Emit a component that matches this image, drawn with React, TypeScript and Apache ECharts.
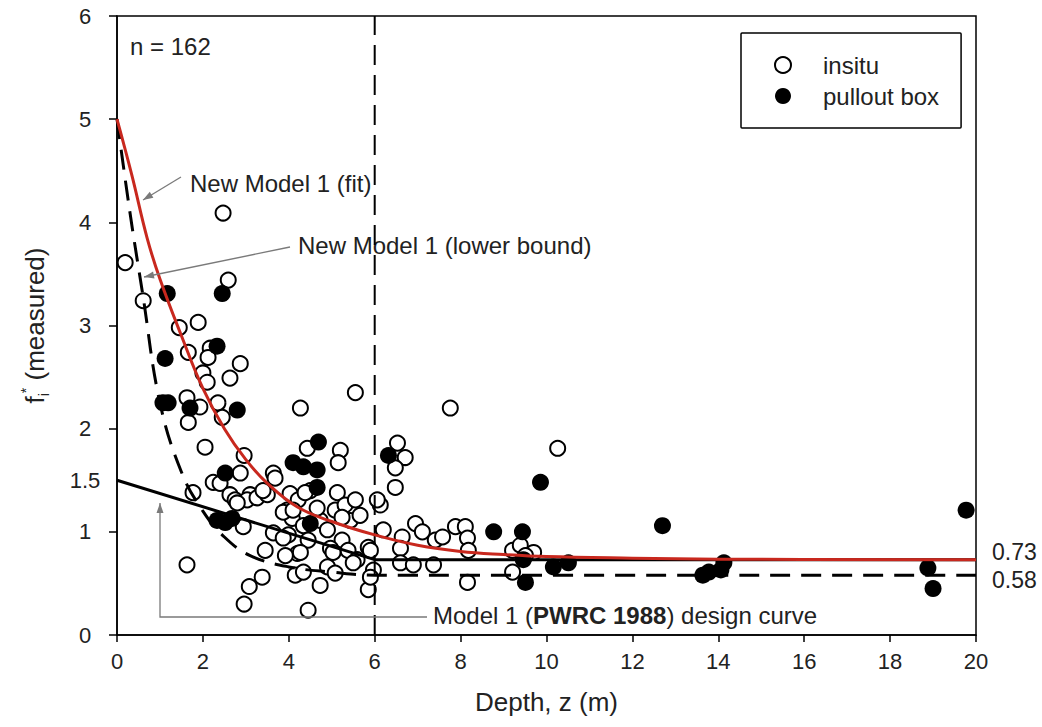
import React, { useEffect, useRef } from "react";
import * as echarts from "echarts";

// Measured f* values (depth z in m, f* measured)
const insitu: number[][] = [
  [0.19, 3.61], [0.61, 3.24], [2.47, 4.09], [2.59, 3.44], [1.45, 2.98], [1.89, 3.03], [1.66, 2.74],
  [2.17, 2.78], [2.12, 2.69], [2.87, 2.63], [2.0, 2.54], [2.63, 2.49], [2.1, 2.45], [1.63, 2.3],
  [2.35, 2.25], [1.93, 2.21], [2.45, 2.11], [1.66, 2.06], [4.27, 2.2], [5.55, 2.35], [7.76, 2.2],
  [10.26, 1.81], [2.05, 1.82], [2.96, 1.74], [4.43, 1.81], [5.2, 1.79], [5.15, 1.67], [6.53, 1.86],
  [6.71, 1.72], [6.48, 1.62], [6.48, 1.43], [5.13, 1.38], [3.64, 1.57], [2.87, 1.57], [2.24, 1.48],
  [2.4, 1.47], [1.77, 1.38], [2.63, 1.36], [2.75, 1.31], [3.1, 1.36], [3.03, 1.31], [3.26, 1.33],
  [3.5, 1.36], [3.68, 1.52], [3.4, 1.4], [3.96, 1.21], [4.08, 1.13], [2.94, 1.05], [3.64, 0.99],
  [3.99, 0.97], [4.2, 0.79], [4.15, 0.58], [3.87, 0.94], [4.03, 1.37], [4.22, 1.31], [4.5, 1.4],
  [4.34, 1.06], [4.45, 0.92], [4.73, 1.11], [4.9, 1.02], [5.08, 1.21], [5.31, 1.26], [5.55, 1.31],
  [5.43, 1.11], [5.66, 1.16], [5.24, 1.14], [5.24, 0.92], [4.97, 0.84], [4.73, 0.48], [4.34, 0.61],
  [4.9, 0.66], [5.08, 0.6], [5.38, 0.82], [5.59, 0.73], [5.85, 0.85], [5.97, 0.63], [5.85, 0.44],
  [6.13, 1.26], [6.2, 1.02], [6.64, 0.95], [6.95, 1.08], [7.11, 1.0], [7.41, 0.92], [6.6, 0.84],
  [6.6, 0.7], [6.9, 0.68], [7.37, 0.68], [7.88, 1.05], [8.11, 1.05], [8.16, 0.94], [8.18, 0.82],
  [8.16, 0.51], [9.21, 0.82], [9.39, 0.87], [9.7, 0.8], [9.51, 0.77], [9.21, 0.61], [7.58, 0.95],
  [1.63, 0.68], [3.38, 0.56], [3.08, 0.47], [2.96, 0.3], [4.45, 0.24], [3.45, 0.82], [3.92, 0.77],
  [3.87, 1.19], [2.8, 1.28], [4.38, 1.38], [4.1, 1.21], [4.66, 1.23], [6.06, 1.31], [4.27, 0.8],
  [5.03, 0.8], [5.9, 0.82], [5.5, 0.7], [5.9, 0.56],
];

const pullout: number[][] = [
  [1.17, 3.31], [2.45, 3.31], [2.33, 2.8], [1.12, 2.68], [1.07, 2.25], [1.19, 2.25], [1.7, 2.2],
  [2.8, 2.18], [2.52, 1.57], [2.33, 1.11], [2.52, 1.09], [2.68, 1.13], [4.1, 1.67], [4.34, 1.63],
  [4.66, 1.6], [4.69, 1.87], [4.66, 1.43], [4.5, 1.08], [6.32, 1.74], [9.86, 1.48], [8.77, 1.0],
  [9.44, 1.0], [9.46, 0.73], [9.51, 0.51], [10.16, 0.66], [10.51, 0.7], [12.7, 1.06], [13.64, 0.58],
  [13.78, 0.61], [14.06, 0.63], [14.13, 0.7], [18.88, 0.65], [19.0, 0.45], [19.77, 1.21],
];

// Curves
const fitCurve: number[][] = [
  [0, 5.0], [0.35, 4.45], [0.7, 3.85], [1, 3.45], [1.5, 2.9], [2, 2.39], [2.5, 2.0], [3, 1.7],
  [3.5, 1.47], [4.2, 1.24], [5, 1.1], [6, 0.97], [7, 0.87], [8, 0.81], [9, 0.78], [10, 0.76],
  [12, 0.745], [14, 0.735], [20, 0.73],
];
const lowerBound: number[][] = [
  [0, 5.0], [0.3, 4.1], [0.6, 3.3], [1.0, 2.25], [1.5, 1.58], [2, 1.2], [2.5, 0.95], [3.1, 0.77],
  [4, 0.66], [5, 0.61], [6, 0.58], [20, 0.58],
];
const pwrcCurve: number[][] = [[0, 1.5], [6, 0.73], [20, 0.73]];
const divider: number[][] = [[6, 0], [6, 6]];

const yLabelValues = [0, 1, 1.5, 2, 3, 4, 5, 6];
const yTickValues = [0, 1, 2, 3, 4, 5, 6];
const endLabels = [
  { text: "0.73", value: 0.73, dy: -8 },
  { text: "0.58", value: 0.58, dy: 5 },
];

const FONT = "'Liberation Sans', Arial, sans-serif";
const GRAY = "#7a7a7a";
const TXT = "#222";

function arrow(x1: number, y1: number, x2: number, y2: number, pts?: number[][]) {
  const line = pts
    ? { type: "polyline", shape: { points: pts }, style: { stroke: GRAY, lineWidth: 1.3, fill: null }, z: 20 }
    : { type: "line", shape: { x1, y1, x2, y2 }, style: { stroke: GRAY, lineWidth: 1.3 }, z: 20 };
  const ang = Math.atan2(y2 - y1, x2 - x1);
  const L = 10, W = 3.5;
  const bx = x2 - L * Math.cos(ang), by = y2 - L * Math.sin(ang);
  const px = -Math.sin(ang) * W, py = Math.cos(ang) * W;
  const head = {
    type: "polygon",
    shape: { points: [[x2, y2], [bx + px, by + py], [bx - px, by - py]] },
    style: { fill: GRAY },
    z: 20,
  };
  return [line, head];
}

export default function App() {
  const ref = useRef<HTMLDivElement>(null);
  useEffect(() => {
    const chart = echarts.init(ref.current!, null, { renderer: "svg" });
    const textStyle = { fontFamily: FONT, fontSize: 24, fill: TXT };
    chart.setOption({
      animation: false,
      backgroundColor: "#fff",
      grid: { left: 117, right: 66, top: 16, bottom: 92, show: true, borderColor: "#000", borderWidth: 1.5 },
      legend: {
        data: ["insitu", "pullout box"],
        orient: "vertical",
        left: 741,
        top: 33,
        padding: [20, 22, 20, 33],
        itemWidth: 70,
        itemHeight: 16,
        itemGap: 7,
        borderColor: "#000",
        borderWidth: 1.5,
        borderRadius: 1,
        backgroundColor: "#fff",
        textStyle: { fontFamily: FONT, fontSize: 24, color: TXT },
      },
      xAxis: {
        type: "value",
        min: 0,
        max: 20,
        interval: 2,
        axisLine: { show: true, lineStyle: { color: "#000", width: 1.5 } },
        axisTick: { show: true, inside: false, length: 7, lineStyle: { color: "#000", width: 1.5 } },
        axisLabel: { fontFamily: FONT, fontSize: 22, color: TXT, margin: 15 },
        splitLine: { show: false },
        name: "Depth, z (m)",
        nameLocation: "middle",
        nameGap: 54,
        nameTextStyle: { fontFamily: FONT, fontSize: 26, color: TXT },
      },
      yAxis: {
        type: "value",
        min: 0,
        max: 6,
        interval: 1,
        axisLine: { show: true, lineStyle: { color: "#000", width: 1.5 } },
        axisTick: { show: true, inside: false, length: 8, customValues: yTickValues, lineStyle: { color: "#000", width: 1.5 } },
        axisLabel: { fontFamily: FONT, fontSize: 22, color: TXT, margin: 32, align: "center", customValues: yLabelValues },
        splitLine: { show: false },
        name: "{f|f}{sub|i}{sup|*}{m| (measured)}",
        nameLocation: "middle",
        nameGap: 66,
        nameTextStyle: {
          fontFamily: FONT,
          color: TXT,
          rich: {
            f: { fontFamily: FONT, fontSize: 26, color: TXT, lineHeight: 32 },
            sub: { fontFamily: FONT, fontSize: 14, color: TXT, verticalAlign: "bottom", lineHeight: 32 },
            sup: { fontFamily: FONT, fontSize: 14, color: TXT, verticalAlign: "top", lineHeight: 32 },
            m: { fontFamily: FONT, fontSize: 26, color: TXT, lineHeight: 32 },
          },
        },
      },
      series: [
        {
          name: "insitu",
          type: "scatter",
          data: insitu,
          symbol: "circle",
          symbolSize: 15,
          itemStyle: { color: "#fff", borderColor: "#000", borderWidth: 2, opacity: 1 },
          z: 2,
        },
        {
          name: "pullout box",
          type: "scatter",
          data: pullout,
          symbol: "circle",
          symbolSize: 17,
          itemStyle: { color: "#000", borderColor: "#000", borderWidth: 0, opacity: 1 },
          z: 2,
        },
        {
          name: "PWRC 1988",
          type: "line",
          data: pwrcCurve,
          showSymbol: false,
          lineStyle: { color: "#000", width: 3 },
          z: 4,
        },
        {
          name: "New Model 1 (lower bound)",
          type: "line",
          data: lowerBound,
          smooth: 0.4,
          showSymbol: false,
          lineStyle: { color: "#000", width: 3, type: [20, 11] },
          z: 4,
        },
        {
          name: "New Model 1 (fit)",
          type: "line",
          data: fitCurve,
          smooth: 0.4,
          showSymbol: false,
          lineStyle: { color: "#c8281e", width: 3 },
          z: 5,
        },
        {
          name: "z = 6 m",
          type: "line",
          data: divider,
          showSymbol: false,
          lineStyle: { color: "#000", width: 2, type: [20, 10] },
          z: 4,
        },
      ],
    });

    const right = chart.convertToPixel({ gridIndex: 0 }, [20, 0]) as number[];
    const labels = endLabels.map((l) => {
      const p = chart.convertToPixel({ gridIndex: 0 }, [20, l.value]) as number[];
      return {
        type: "text",
        x: right[0] + 16,
        y: p[1] + l.dy,
        style: { ...textStyle, text: l.text, fontSize: 23, verticalAlign: "middle", align: "left" },
      };
    });

    chart.setOption({
      graphic: [
        { type: "text", x: 130, y: 46, style: { ...textStyle, text: "n = 162", verticalAlign: "middle" } },
        { type: "text", x: 190, y: 183, style: { ...textStyle, text: "New Model 1 (fit)", verticalAlign: "middle" } },
        { type: "text", x: 298, y: 245, style: { ...textStyle, text: "New Model 1 (lower bound)", verticalAlign: "middle" } },
        {
          type: "text",
          x: 433,
          y: 615,
          style: {
            ...textStyle,
            verticalAlign: "middle",
            text: "{r|Model 1 (}{b|PWRC 1988}{r|) design curve}",
            rich: {
              r: { fontFamily: FONT, fontSize: 24, fill: TXT },
              b: { fontFamily: FONT, fontSize: 24, fill: TXT, fontWeight: "bold" },
            },
          },
        },
        ...arrow(181, 177, 143, 200),
        ...arrow(290, 247, 144, 277),
        ...arrow(160, 617, 160, 503, [[427, 617], [160, 617], [160, 503]]),
        ...labels,
      ],
    });

    return () => chart.dispose();
  }, []);
  return <div ref={ref} style={{ position: "absolute", left: 0, top: 0, width: 1042, height: 727 }} />;
}
